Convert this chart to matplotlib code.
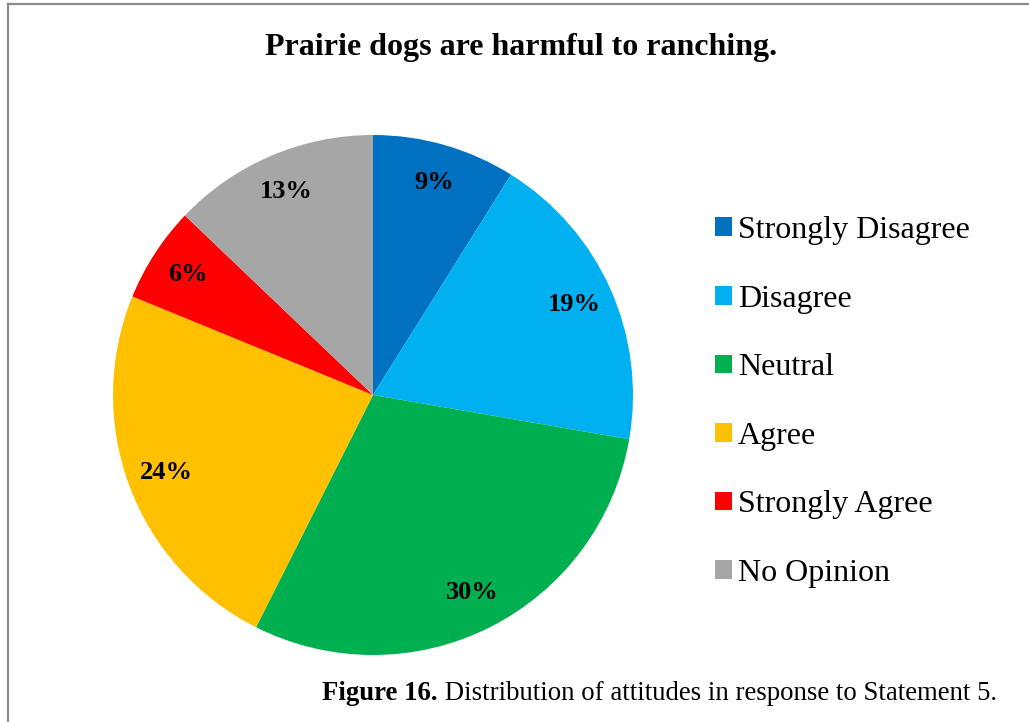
import matplotlib.pyplot as plt
from matplotlib.patches import Patch
from matplotlib.lines import Line2D

categories = ['Strongly Disagree', 'Disagree', 'Neutral', 'Agree',
              'Strongly Agree', 'No Opinion']
values = [9, 19, 30, 24, 6, 13]
colors = ['#0070C0', '#00B0F0', '#00B050', '#FFC000', '#FF0000', '#A6A6A6']

title = 'Prairie dogs are harmful to ranching.'
caption_bold = 'Figure 16.'
caption_rest = ' Distribution of attitudes in response to Statement 5.'

plt.rcParams['font.family'] = ['Liberation Serif', 'DejaVu Serif']

W, H = 1029, 722
fig = plt.figure(figsize=(W / 100, H / 100), dpi=100)

# pie centre (373, 395) px, radius 260 px
cx, cy, r = 373, 395, 260
ax = fig.add_axes([(cx - r) / W, (H - cy - r) / H, 2 * r / W, 2 * r / H])
wedges, texts = ax.pie(values, colors=colors, startangle=90, counterclock=False,
                       radius=1, labels=[f'{v}%' for v in values],
                       labeldistance=0.85,
                       textprops=dict(fontsize=19, fontweight='bold',
                                      ha='center', va='center'))
ax.set_xlim(-1, 1)
ax.set_ylim(-1, 1)
ax.set_aspect('equal')

# title
fig.text(521 / W, 1 - 47 / H, title, ha='center', va='center',
         fontsize=23, fontweight='bold')

# legend
handles = [Patch(facecolor=c, edgecolor='none') for c in colors]
fig.legend(handles, categories, loc='upper left',
           bbox_to_anchor=(715 / W, 1 - 216 / H), frameon=False,
           fontsize=23, handlelength=0.52, handleheight=0.52,
           handletextpad=0.2, labelspacing=1.24, borderpad=0,
           borderaxespad=0)

# caption: bold part then regular part
t1 = fig.text(322 / W, 1 - 700 / H, caption_bold, ha='left', va='baseline',
              fontsize=19.3, fontweight='bold')
fig.canvas.draw()
bb = t1.get_window_extent()
fig.text(bb.x1 / W, 1 - 700 / H, caption_rest, ha='left', va='baseline',
         fontsize=19.3)

# frame lines (top and left)
fig.add_artist(Line2D([8 / W, 1], [1 - 4 / H, 1 - 4 / H], color='#8c8c8c',
                      lw=1.6, transform=fig.transFigure))
fig.add_artist(Line2D([8 / W, 8 / W], [0, 1 - 4 / H], color='#8c8c8c',
                      lw=1.6, transform=fig.transFigure))

fig.savefig('out.png', dpi=100)
